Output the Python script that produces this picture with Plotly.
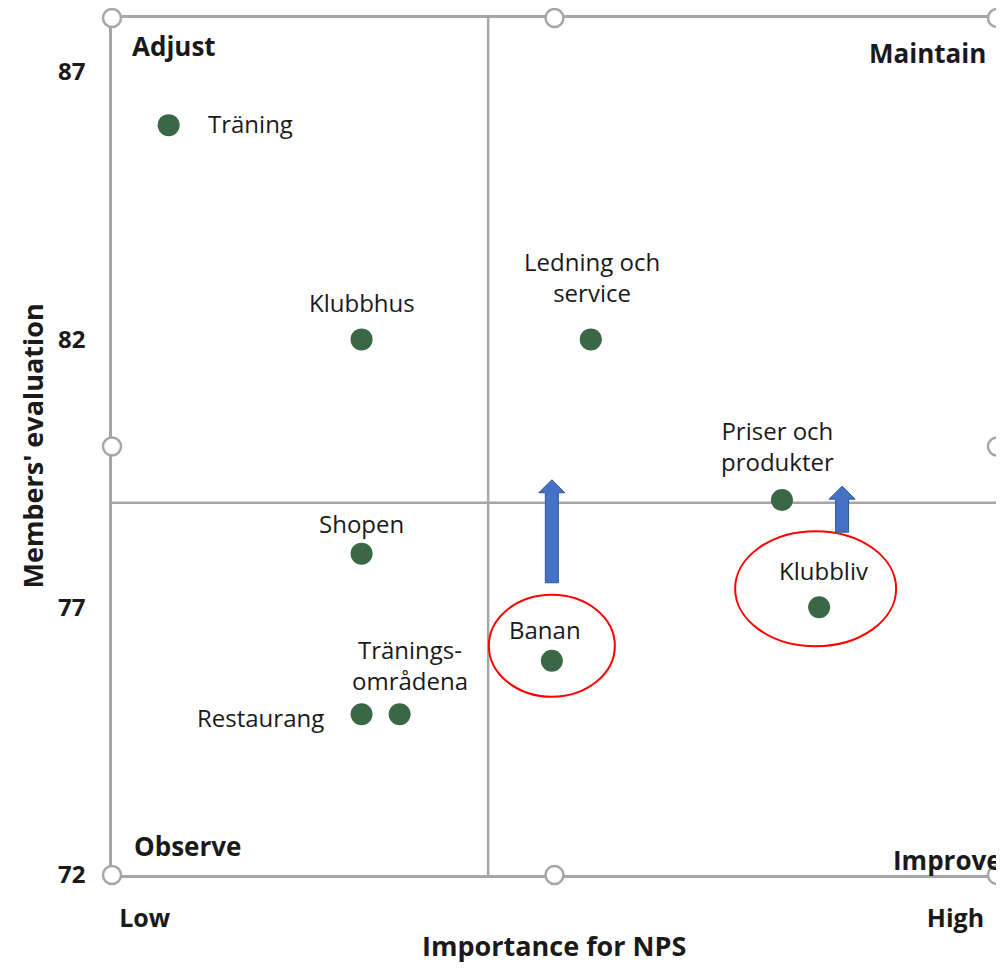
import plotly.graph_objects as go

# ---- data ----
names = ["Träning", "Klubbhus", "Ledning och<br>service", "Priser och<br>produkter",
         "Shopen", "Klubbliv", "Banan", "Restaurang", "Tränings-<br>områdena"]
importance = [6.4, 28.2, 54.1, 75.7, 28.2, 79.9, 49.7, 28.2, 32.5]
evaluation = [86.0, 82.0, 82.0, 79.0, 78.0, 77.0, 76.0, 75.0, 75.0]
y_ticks = [72, 77, 82, 87]
x_tick_vals = [3.7, 95.3]
x_tick_text = ["Low", "High"]
x_title = "Importance for NPS"
y_title = "Members' evaluation"
x_mid = 42.5
y_mid = 78.95
quadrants = ["Adjust", "Maintain", "Observe", "Improve"]
highlighted = ["Banan", "Klubbliv"]

# ---- styles ----
FONT = "Open Sans"
GREEN = "#3a6847"
GRID = "#a6a6a6"
TXT = "#1a1a1a"

# label placement: (xanchor, xshift, yshift)
label_pos = {
    "Träning": ("left", 37, 2),
    "Klubbhus": ("center", 0, 37),
    "Ledning och<br>service": ("center", 1, 62),
    "Priser och<br>produkter": ("center", -4, 54),
    "Shopen": ("center", 0, 30),
    "Klubbliv": ("center", 4, 37),
    "Banan": ("center", -7, 31),
    "Restaurang": ("right", -36, -3),
    "Tränings-<br>områdena": ("center", 10, 49),
}
# ellipse (x0, x1, y0, y1) in px relative to point; arrow (dx, bottom, tip) px above point
ellipse_px = {"Banan": (-63, 63, -36, 66), "Klubbliv": (-84, 77, -39, 76)}
arrow_px = {"Banan": (0, 78, 181), "Klubbliv": (23, 75, 121)}

fig = go.Figure()
fig.add_trace(go.Scatter(
    x=importance, y=evaluation, mode="markers",
    marker=dict(size=22, color=GREEN), hoverinfo="skip", showlegend=False))

annotations = []
for n, xv, yv in zip(names, importance, evaluation):
    xa, xs, ys = label_pos[n]
    annotations.append(dict(x=xv, y=yv, xref="x", yref="y", text=n, showarrow=False,
                            xanchor=xa, yanchor="middle", xshift=xs, yshift=ys,
                            font=dict(family=FONT, size=24, color=TXT)))

qfont = dict(family=FONT, size=26, color=TXT, weight="bold")
annotations += [
    dict(x=0, y=1, xref="paper", yref="paper", text=quadrants[0], showarrow=False,
         xanchor="left", yanchor="middle", xshift=18, yshift=-28, font=qfont),
    dict(x=1, y=1, xref="paper", yref="paper", text=quadrants[1], showarrow=False,
         xanchor="right", yanchor="middle", xshift=-9, yshift=-35, font=qfont),
    dict(x=0, y=0, xref="paper", yref="paper", text=quadrants[2], showarrow=False,
         xanchor="left", yanchor="middle", xshift=20, yshift=29, font=qfont),
    dict(x=1, y=0, xref="paper", yref="paper", text=quadrants[3], showarrow=False,
         xanchor="left", yanchor="middle", xshift=-106, yshift=15, font=qfont),
]
tfont = dict(family=FONT, size=27, color=TXT, weight="bold")
annotations += [
    dict(x=0.5, y=0, xref="paper", yref="paper", text=x_title, showarrow=False,
         xanchor="center", yanchor="middle", xshift=-1, yshift=-70, font=tfont),
    dict(x=0, y=0.5, xref="paper", yref="paper", text=y_title, showarrow=False, textangle=-90,
         xanchor="center", yanchor="middle", xshift=-80, yshift=0, font=tfont),
]

shapes = [
    dict(type="line", xref="x", yref="paper", x0=x_mid, x1=x_mid, y0=0, y1=1,
         line=dict(color=GRID, width=2.5), layer="below"),
    dict(type="line", xref="paper", yref="y", x0=0, x1=1, y0=y_mid, y1=y_mid,
         line=dict(color=GRID, width=2.5), layer="below"),
]
for n, xv, yv in zip(names, importance, evaluation):
    if n in highlighted:
        ex0, ex1, ey0, ey1 = ellipse_px[n]
        shapes.append(dict(type="circle", xref="x", yref="y", xsizemode="pixel", ysizemode="pixel",
                           xanchor=xv, yanchor=yv, x0=ex0, x1=ex1, y0=ey0, y1=ey1,
                           line=dict(color="#ff0000", width=2)))
        dx, b, t = arrow_px[n]
        sw, hw, hh = 6.5, 13, 13
        path = (f"M{dx-sw},{b} L{dx+sw},{b} L{dx+sw},{t-hh} L{dx+hw},{t-hh} "
                f"L{dx},{t} L{dx-hw},{t-hh} L{dx-sw},{t-hh} Z")
        shapes.append(dict(type="path", xref="x", yref="y", xsizemode="pixel", ysizemode="pixel",
                           xanchor=xv, yanchor=yv, path=path,
                           fillcolor="#4472c4", line=dict(color="#2f5597", width=1)))

# selection handles around the chart area
for hx, hy in [(0, 1), (0.5, 1), (1, 1), (0, 0.5), (1, 0.5), (0, 0), (0.5, 0), (1, 0)]:
    shapes.append(dict(type="circle", xref="paper", yref="paper", xsizemode="pixel", ysizemode="pixel",
                       xanchor=hx, yanchor=hy, x0=-9, x1=9, y0=-9, y1=9,
                       fillcolor="white", line=dict(color=GRID, width=2.5)))

fig.update_layout(
    width=996, height=957,
    margin=dict(l=104, r=7, t=10, b=90),
    paper_bgcolor="white", plot_bgcolor="white",
    font=dict(family=FONT, color=TXT),
    annotations=annotations, shapes=shapes,
    xaxis=dict(range=[0, 100], showgrid=False, zeroline=False, showline=True, mirror=True,
               automargin=False,
               linecolor=GRID, linewidth=2.5, tickvals=x_tick_vals, ticktext=x_tick_text,
               ticks="", ticklabelstandoff=19,
               tickfont=dict(family=FONT, size=25, color=TXT, weight="bold")),
    yaxis=dict(range=[72, 88], showgrid=False, zeroline=False, showline=True, mirror=True,
               automargin=False,
               linecolor=GRID, linewidth=2.5, tickvals=y_ticks, ticks="", ticklabelstandoff=19,
               tickfont=dict(family=FONT, size=24, color=TXT, weight="bold")),
)

fig.write_html("out.html")
